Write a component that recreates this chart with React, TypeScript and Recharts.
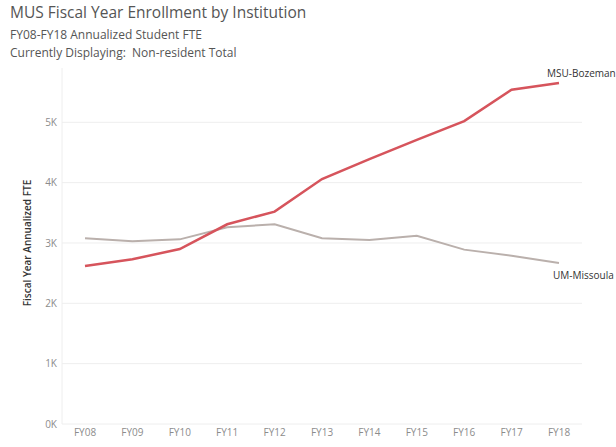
import React from 'react';
import { LineChart, Line, XAxis, YAxis, CartesianGrid } from 'recharts';

const years = ['FY08', 'FY09', 'FY10', 'FY11', 'FY12', 'FY13', 'FY14', 'FY15', 'FY16', 'FY17', 'FY18'];
const msuBozeman = [2620, 2730, 2900, 3310, 3520, 4060, 4390, 4710, 5020, 5540, 5650];
const umMissoula = [3080, 3030, 3060, 3260, 3310, 3080, 3050, 3120, 2890, 2790, 2670];
const yTicks = [0, 1000, 2000, 3000, 4000, 5000];

const data = years.map((fy, i) => ({ fy, msu: msuBozeman[i], um: umMissoula[i] }));

const font = '"Open Sans", "Noto Sans", sans-serif';

const endLabel = (text: string, dx: number, dy: number) => (props: any) => {
  if (props.index !== years.length - 1) return null;
  return (
    <text x={props.x + dx} y={props.y + dy} fontSize={10} fill="#333" fontFamily={font} dominantBaseline="middle">
      {text}
    </text>
  );
};

export default function App() {
  return (
    <div style={{ position: 'absolute', left: 0, top: 0, width: 616, height: 447, background: '#fff', fontFamily: font }}>
      <div style={{ position: 'absolute', left: 10, top: 1, fontSize: 15.5, color: '#555' }}>
        MUS Fiscal Year Enrollment by Institution
      </div>
      <div style={{ position: 'absolute', left: 10, top: 26, fontSize: 12, color: '#555' }}>
        FY08-FY18 Annualized Student FTE
      </div>
      <div style={{ position: 'absolute', left: 10, top: 44, fontSize: 12, color: '#555' }}>
        Currently Displaying:&nbsp; Non-resident Total
      </div>
      <div
        style={{
          position: 'absolute',
          left: 27,
          top: 243,
          transform: 'translate(-50%, -50%) rotate(-90deg)',
          fontSize: 10,
          fontWeight: 600,
          color: '#333',
          whiteSpace: 'nowrap',
        }}
      >
        Fiscal Year Annualized FTE
      </div>
      <LineChart width={616} height={447} data={data} margin={{ top: 68, right: 34, bottom: 0, left: 0 }}>
        <CartesianGrid vertical={false} stroke="#eeeeee" horizontalValues={yTicks} />
        <XAxis
          dataKey="fy"
          height={23}
          padding={{ left: 23, right: 23 }}
          axisLine={false}
          tickLine={false}
          tickSize={0}
          tickMargin={5}
          tick={{ fontSize: 10, fill: '#8c8c8c', fontFamily: font }}
        />
        <YAxis
          width={62}
          domain={[0, 5900]}
          ticks={yTicks}
          tickFormatter={(v: number) => `${v / 1000}K`}
          axisLine={{ stroke: '#eeeeee' }}
          tickLine={false}
          tickSize={0}
          tickMargin={5}
          tick={{ fontSize: 10, fill: '#8c8c8c', fontFamily: font }}
        />
        <Line
          type="linear"
          dataKey="um"
          stroke="#bab0ac"
          strokeWidth={2}
          dot={false}
          isAnimationActive={false}
          label={endLabel('UM-Missoula', -6, 13)}
        />
        <Line
          type="linear"
          dataKey="msu"
          stroke="#d6545c"
          strokeWidth={2.5}
          dot={false}
          isAnimationActive={false}
          label={endLabel('MSU-Bozeman', -12, -9)}
        />
      </LineChart>
    </div>
  );
}
